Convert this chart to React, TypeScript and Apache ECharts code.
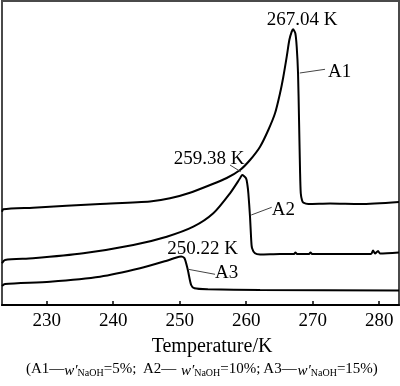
import React, { useEffect, useRef } from "react";
import * as echarts from "echarts";

// Temperature (K) and relative heat-flow signal (arbitrary units)
const a1T = [223.28, 223.47, 227.94, 238.02, 245.53, 248.54, 251.55, 254.56, 257.07, 259.07, 260.57, 262.08, 263.32, 264.33, 265.08, 265.58, 266.09, 266.48, 266.84, 267.04, 267.38, 267.59, 267.79, 267.94, 268.09, 268.2, 268.4, 268.59, 269.34, 272.6, 277.11, 282.97];
const a1V = [93.3, 95.7, 97.3, 101, 103.5, 106.7, 112.3, 120, 127, 135, 145, 158.3, 175, 191.7, 211.7, 228.3, 248.3, 265, 273.3, 275.7, 271.7, 258.3, 231.7, 185, 135, 111.7, 104.5, 102.3, 101, 101.5, 101, 103];

const a2T = [223.28, 223.73, 227.94, 235.5, 243.02, 248.05, 252.05, 255.05, 257.56, 259.07, 259.38, 259.97, 260.18, 260.32, 260.57, 260.75, 260.87, 261.32, 262.08, 265.08, 267.19, 267.4, 267.64, 269.44, 269.67, 269.9, 274.1, 278.77, 279.07, 279.37, 279.82, 280.12, 282.97];
const a2V = [41.7, 45, 46.7, 51.7, 60, 68.3, 78.3, 91.7, 111.7, 126.7, 130, 126.7, 120, 111.7, 88.3, 65, 57, 51.7, 50.5, 51, 51, 52.5, 51, 51, 52.5, 51, 51, 51, 54.5, 51.5, 54, 51.5, 52.5];

const a3T = [223.28, 223.73, 230.5, 238.02, 244.03, 248.05, 249.4, 250.22, 250.72, 251.22, 251.72, 252.22, 254.23, 262.08, 282.97];
const a3V = [19, 21, 23.3, 28.3, 36.7, 44.3, 47.3, 48.5, 46.7, 35, 20, 16.7, 15.7, 15, 14.5];

const xTicks = [230, 240, 250, 260, 270, 280];

const peakLabels = ["267.04 K", "259.38 K", "250.22 K"];
const peakLabelPos = [[268.39, 287], [254.43, 148], [253.43, 57.3]];
const curveNames = ["A1", "A2", "A3"];
const curveLabelPos = [[272.3, 235], [263.83, 96.7], [255.31, 33.3]];
const leaders = [
  [[268.05, 232], [271.85, 235.7]],
  [[260.75, 90], [263.83, 97.7]],
  [[251.29, 35.7], [255.31, 30.7]],
  [[257.56, 140], [259.17, 133.3]],
];

const FONT = "'Liberation Serif', 'Times New Roman', serif";

function zip(t: number[], v: number[]) {
  return t.map((x, i) => [x, v[i]]);
}

export default function App() {
  const ref = useRef<HTMLDivElement>(null);
  useEffect(() => {
    if (!ref.current) return;
    const chart = echarts.init(ref.current, null, { renderer: "svg" });
    const lineStyle = { color: "#000", width: 2 };
    const mk = (name: string, t: number[], v: number[]) => ({
      name,
      type: "line",
      data: zip(t, v),
      showSymbol: false,
      symbol: "none",
      smooth: 0.25,
      lineStyle,
      silent: true,
    });
    const annotations = {
      name: "annot",
      type: "line",
      data: [],
      silent: true,
      markPoint: {
        symbol: "circle",
        symbolSize: 0,
        silent: true,
        data: [
          ...peakLabels.map((s, i) => ({
            coord: peakLabelPos[i],
            value: s,
            label: { show: true, position: "inside", formatter: s, color: "#000", fontFamily: FONT, fontSize: 19 },
          })),
          ...curveNames.map((s, i) => ({
            coord: curveLabelPos[i],
            value: s,
            label: { show: true, position: "right", distance: 0, formatter: s, color: "#000", fontFamily: FONT, fontSize: 19 },
          })),
        ],
      },
      markLine: {
        symbol: ["none", "none"],
        silent: true,
        label: { show: false },
        lineStyle: { color: "#444", width: 1, type: "solid" },
        data: leaders.map((l) => [{ coord: l[0] }, { coord: l[1] }]),
      },
    };
    chart.setOption({
      animation: false,
      grid: { left: 2, right: 1, top: 1, bottom: 81, show: true, borderColor: "#4a4a4a", borderWidth: 2, backgroundColor: "transparent" },
      xAxis: {
        type: "value",
        min: 223.28,
        max: 282.97,
        splitLine: { show: false },
        axisLine: { lineStyle: { color: "#000", width: 2 } },
        axisTick: { inside: true, length: 4, customValues: xTicks, lineStyle: { color: "#000", width: 1.5 } },
        axisLabel: { customValues: xTicks, color: "#000", fontFamily: FONT, fontSize: 19, margin: 5 },
        name: "Temperature/K",
        nameLocation: "middle",
        nameGap: 30,
        nameTextStyle: { color: "#000", fontFamily: FONT, fontSize: 20, padding: [0, 0, 0, 23] },
      },
      yAxis: { type: "value", min: 0, max: 304, show: false, splitLine: { show: false } },
      series: [mk("A1", a1T, a1V), mk("A2", a2T, a2V), mk("A3", a3T, a3V), annotations],
      graphic: [
        {
          type: "text",
          left: 26,
          top: 359,
          style: {
            text: "(A1—{i|w′}{s|NaOH}=5%;  A2— {i|w′}{s|NaOH}=10%; A3—{i|w′}{s|NaOH}=15%)",
            fontFamily: FONT,
            fontSize: 15,
            fill: "#000",
            rich: {
              i: { fontFamily: FONT, fontStyle: "italic", fontSize: 15, fill: "#000", verticalAlign: "bottom", lineHeight: 18 },
              s: { fontFamily: FONT, fontSize: 10, fill: "#000", verticalAlign: "bottom", lineHeight: 18 },
            },
            lineHeight: 18,
            verticalAlign: "bottom",
          },
        },
      ],
    });
    return () => chart.dispose();
  }, []);
  return <div ref={ref} style={{ position: "fixed", left: 0, top: 0, width: 400, height: 386 }} />;
}
